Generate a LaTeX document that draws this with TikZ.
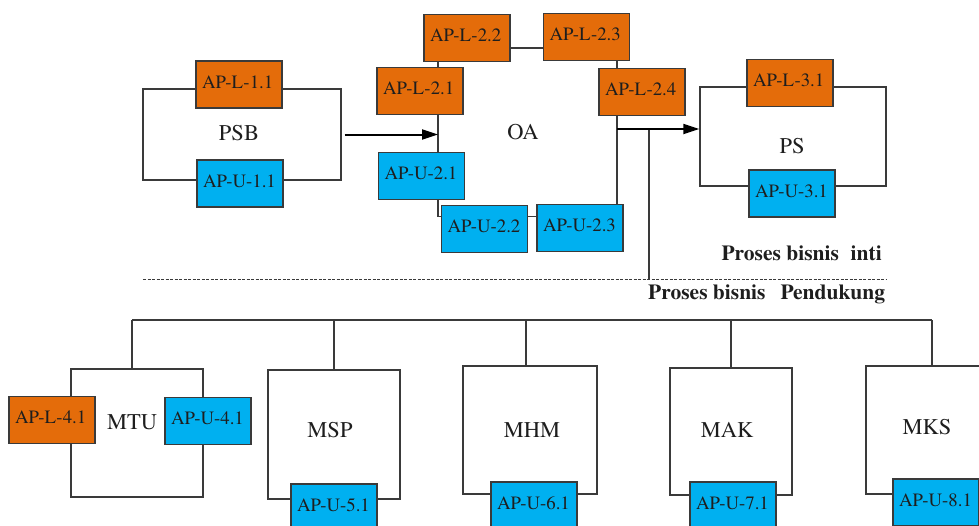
\documentclass[tikz,border=0pt]{standalone}
\usepackage{fontspec}
\IfFontExistsTF{texgyretermes-regular.otf}
  {\setmainfont{texgyretermes-regular.otf}[BoldFont=texgyretermes-bold.otf]}
  {\setmainfont{Liberation Serif}}
\usetikzlibrary{arrows.meta,backgrounds}
\definecolor{aplcol}{HTML}{E46C0A}
\definecolor{apucol}{HTML}{00B0F0}
\definecolor{edgecol}{HTML}{3A3A3A}
\definecolor{inkcol}{HTML}{1E1E1E}

\begin{document}
\begin{tikzpicture}[x=1pt,y=-1pt,
  apbox/.style={draw=edgecol, line width=1.2pt, minimum width=86pt, minimum height=47pt,
    inner xsep=6pt, inner ysep=0pt, text width=74pt, align=left,
    text height=27pt, text depth=20pt, text=inkcol,
    font=\fontsize{18.8}{20}\selectfont},
  lbox/.style={apbox, fill=aplcol},
  ubox/.style={apbox, fill=apucol},
  frame/.style={draw=edgecol, line width=1.3pt, inner sep=0pt},
  biglabel/.style={anchor=base, inner sep=0pt, text=inkcol, font=\fontsize{22.5}{24}\selectfont},
  section/.style={inner sep=0pt, text=inkcol, font=\fontsize{21.5}{24}\selectfont\bfseries},
  wire/.style={draw=edgecol, line width=1.3pt},
  flow/.style={draw=black, line width=2pt, -{Triangle[length=16pt,width=10pt]}},
  sepline/.style={draw=edgecol, line width=1pt, dash pattern=on 3pt off 1.5pt}
]
\useasboundingbox (0,0) rectangle (979,525);
\clip (0,0) rectangle (979,525);

% ---------- core process frames ----------
\node[frame, minimum width=198pt, minimum height=91pt] (psb) at (242,134.5) {};
\node[frame, minimum width=186pt, minimum height=99pt] (ps) at (793,136.5) {};

% ---------- support process frames ----------
\node[frame, minimum width=132pt, minimum height=128pt] (mtu) at (137,433) {};
\node[frame, minimum width=132pt, minimum height=129pt] (msp) at (334,434.5) {};
\node[frame, minimum width=134pt, minimum height=128pt] (mhm) at (530,430) {};
\node[frame, minimum width=122pt, minimum height=127pt] (mak) at (731,431.5) {};
\node[frame, minimum width=132pt, minimum height=128pt] (mks) at (932,430) {};

% ---------- process names ----------
\node[biglabel] (psbl) at (239,140.5) {PSB};
\node[biglabel] (oal)  at (523,139.5) {OA};
\node[biglabel] (psl)  at (792,153.5) {PS};
\node[biglabel] (mtul) at (132,429.5) {MTU};
\node[biglabel] (mspl) at (330,437.5) {MSP};
\node[biglabel] (mhml) at (532,437.5) {MHM};
\node[biglabel] (makl) at (727,437.5) {MAK};
\node[biglabel] (mksl) at (927,434.5) {MKS};

% ---------- application boxes ----------
\node[lbox] (apl11) at (239,84.5)  {AP-L-1.1};
\node[ubox] (apu11) at (240,183.5) {AP-U-1.1};

\node[lbox] (apl22) at (467,38)    {AP-L-2.2};
\node[lbox] (apl23) at (586.5,37)  {AP-L-2.3};
\node[lbox] (apl21) at (420,91)    {AP-L-2.1};
\node[lbox] (apl24) at (642,92)    {AP-L-2.4};
\node[ubox] (apu21) at (421.5,176) {AP-U-2.1};
\node[ubox] (apu22) at (484.5,229) {AP-U-2.2};
\node[ubox] (apu23) at (580,228)   {AP-U-2.3};

\node[lbox] (apl31) at (790,83)    {AP-L-3.1};
\node[ubox] (apu31) at (792,193.5) {AP-U-3.1};

\node[lbox] (apl41) at (52,420)    {AP-L-4.1};
\node[ubox] (apu41) at (208,421)   {AP-U-4.1};
\node[ubox] (apu51) at (334,507.5) {AP-U-5.1};
\node[ubox] (apu61) at (534,505.5) {AP-U-6.1};
\node[ubox] (apu71) at (733,505.5) {AP-U-7.1};
\node[ubox] (apu81) at (936,502.5) {AP-U-8.1};

% ---------- section captions ----------
\node[section, anchor=base east] (inti) at (882,260) {Proses bisnis\hspace{0.3em} inti};
\node[section, anchor=base west] (pendukung) at (648,299) {Proses bisnis\hspace{0.45em} Pendukung};

% ---------- guide coordinates ----------
\coordinate (oaL) at (438,0);
\coordinate (oaR) at (617,0);
\coordinate (tap) at (617,129);
\coordinate (spine) at (649,0);
\coordinate (sep) at (143,279);
\coordinate (bus) at (0,320);

% ---------- connectors ----------
\begin{scope}[on background layer]
  % OA outline
  \draw[wire] ([yshift=-10pt]apl22.east) -- ([yshift=-10pt]apl22.east -| apl23.west);
  \draw[wire] (oaL |- apl22.center) -- (oaL |- 0,216.5) -- (0,216.5 -| apu22.west);
  \draw[wire] (apu22.east |- 0,216.5) -- (apu23.west |- 0,216.5);
  \draw[wire] (oaR |- apl23.center) -- (oaR |- apu23.center);
  % link to the support processes
  \draw[wire] (tap -| spine) -- (spine |- sep);
  \draw[sepline] (sep) -- ++(744,0);
  % support tree
  \draw[wire] ([xshift=-5pt]mtu.north |- bus) -- (mks.north |- bus);
  \draw[wire] ([xshift=-5pt]mtu.north |- bus) -- ([xshift=-5pt]mtu.north);
  \draw[wire] (msp.north |- bus) -- (msp.north);
  \draw[wire] ([xshift=-4pt]mhm.north |- bus) -- ([xshift=-4pt]mhm.north);
  \draw[wire] (mak.north |- bus) -- (mak.north);
  \draw[wire] (mks.north |- bus) -- (mks.north);
\end{scope}

% process flow arrows
\draw[flow] ([xshift=3pt]psb.east) -- (oaL |- psb.east);
\draw[flow] (tap) -- (tap -| ps.west);
\end{tikzpicture}
\end{document}
